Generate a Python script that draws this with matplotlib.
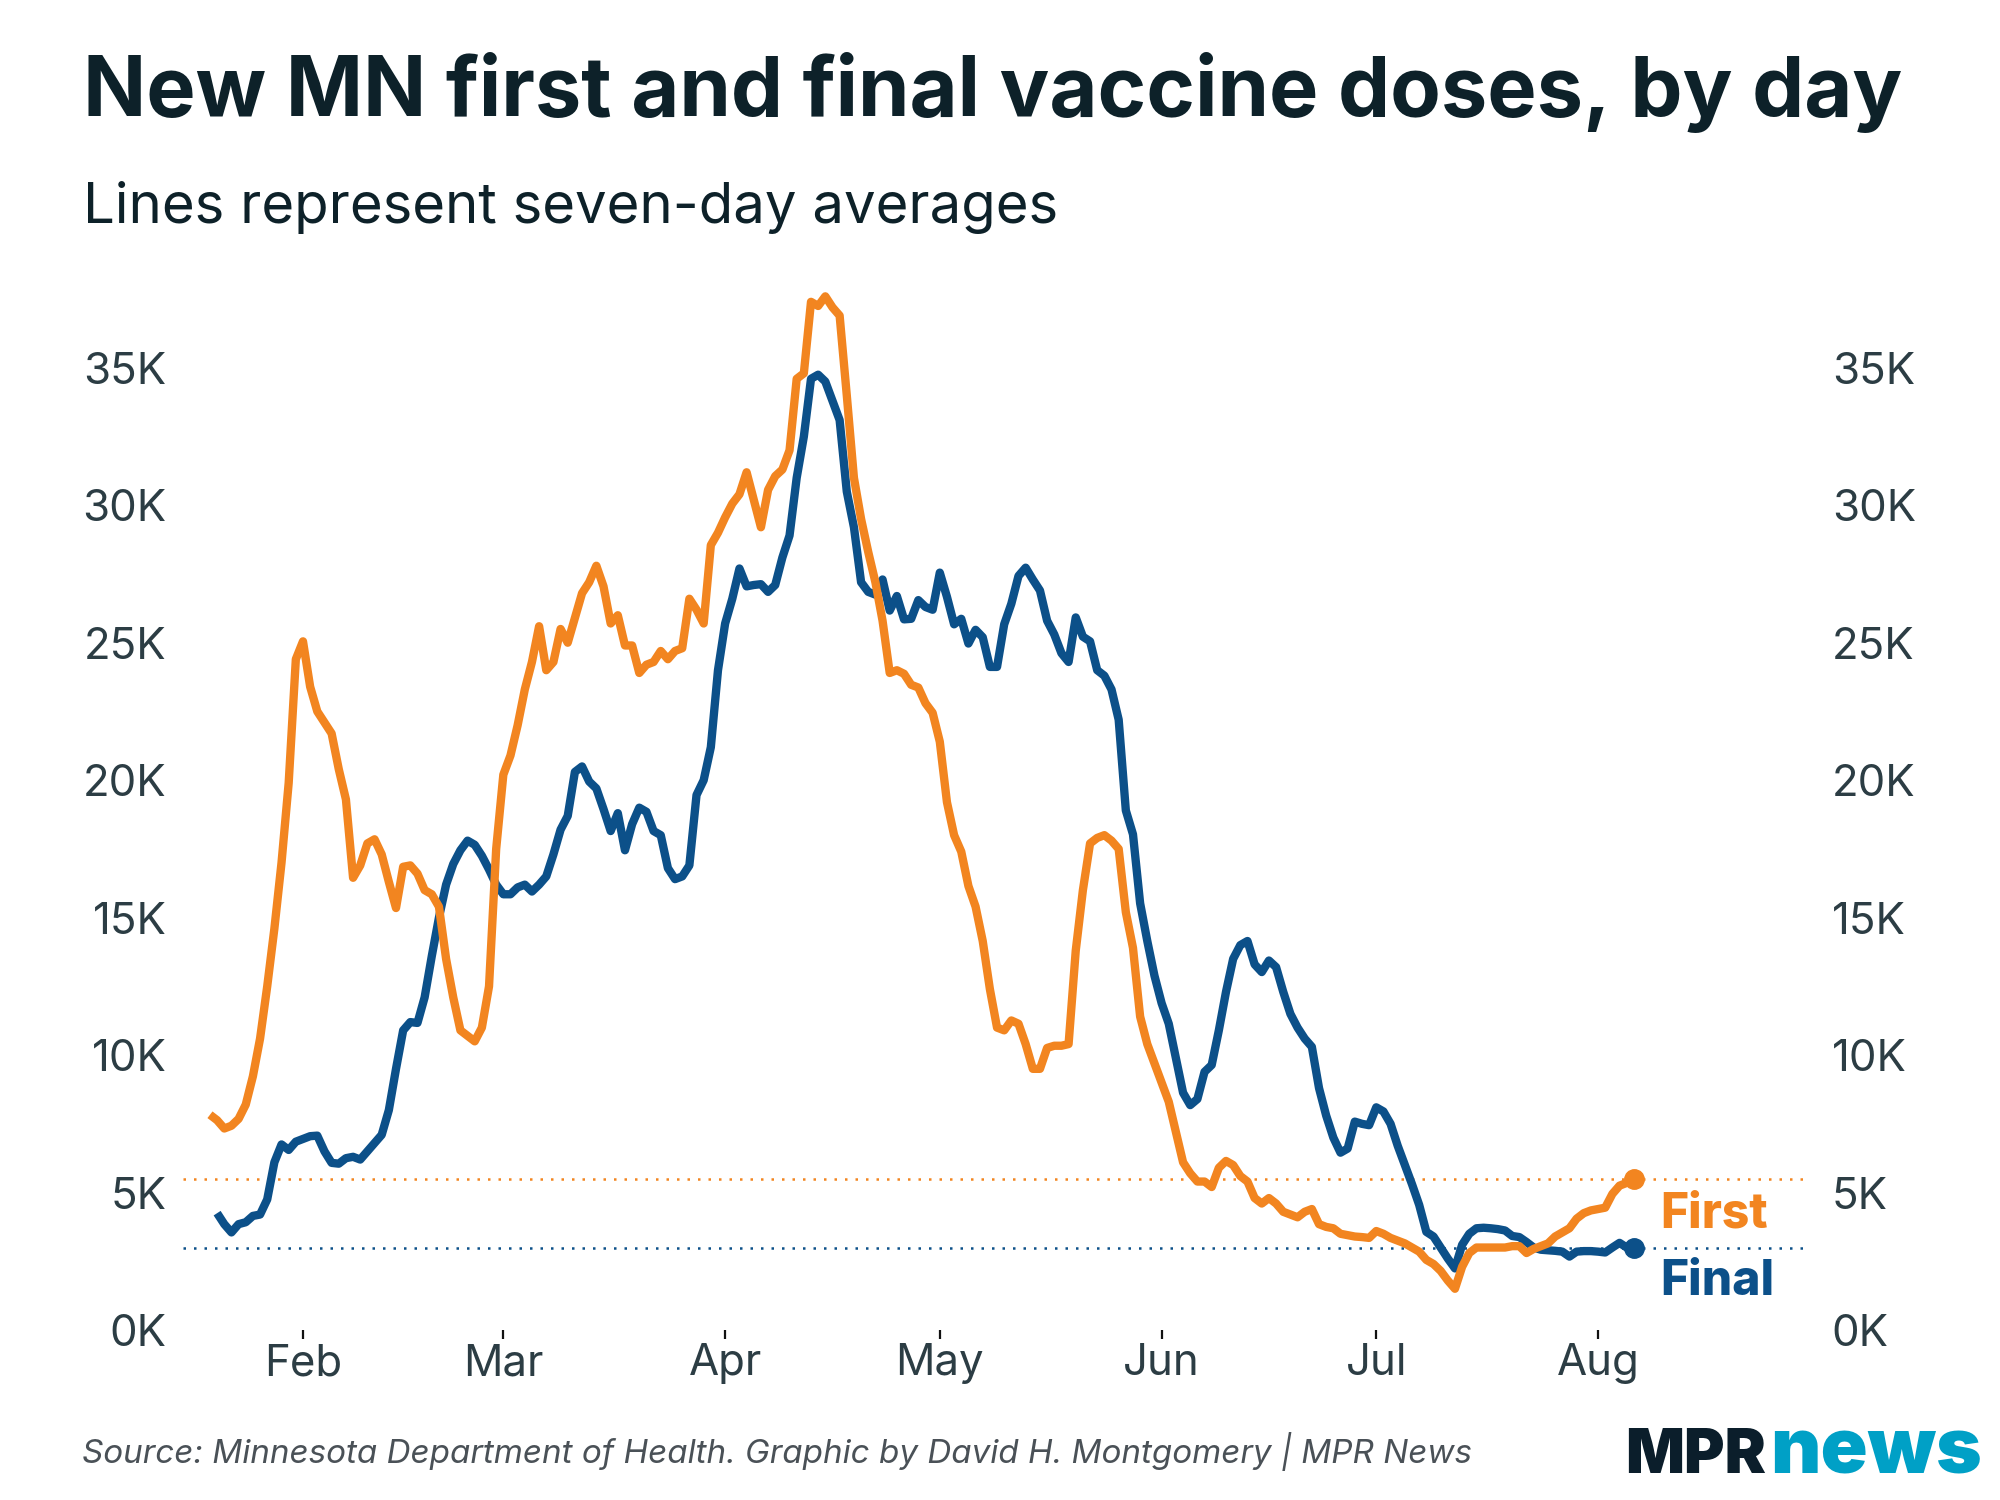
import matplotlib.pyplot as plt
import pandas as pd
from matplotlib.ticker import FuncFormatter

plt.rcParams['font.family'] = ['Inter', 'DejaVu Sans']

# seven-day averages, thousands of doses per day
first_start = '2021-01-19'
first_doses = [
    7.83, 7.63, 7.33, 7.43, 7.68, 8.2, 9.23, 10.6, 12.5, 14.6,
    17.0, 19.9, 24.4, 25.05, 23.4, 22.5, 22.1, 21.7, 20.4, 19.3,
    16.45, 16.9, 17.7, 17.85, 17.3, 16.3, 15.35, 16.85, 16.9, 16.6,
    16.0, 15.85, 15.4, 13.5, 12.1, 10.9, 10.7, 10.5, 11.0, 12.5,
    17.5, 20.2, 20.9, 22.0, 23.3, 24.3, 25.6, 24.0, 24.3, 25.5,
    25.0, 25.9, 26.8, 27.2, 27.8, 27.05, 25.7, 26.0, 24.9, 24.9,
    23.9, 24.2, 24.3, 24.7, 24.4, 24.7, 24.8, 26.6, 26.2, 25.7,
    28.55, 29.0, 29.56, 30.06, 30.4, 31.2, 30.2, 29.2, 30.56, 31.06,
    31.3, 32.0, 34.6, 34.8, 37.4, 37.25, 37.6, 37.2, 36.9, 34.0,
    31.0, 29.5, 28.3, 27.2, 25.8, 23.9, 24.0, 23.87, 23.47, 23.37,
    22.8, 22.45, 21.4, 19.2, 18.0, 17.4, 16.15, 15.4, 14.15, 12.4,
    11.0, 10.9, 11.26, 11.14, 10.4, 9.5, 9.5, 10.26, 10.34, 10.34,
    10.4, 13.8, 16.0, 17.7, 17.9, 18.0, 17.8, 17.5, 15.2, 13.9,
    11.4, 10.4, 9.7, 9.0, 8.3, 7.2, 6.1, 5.7, 5.4, 5.4,
    5.2, 5.9, 6.15, 6.0, 5.6, 5.4, 4.8, 4.6, 4.8, 4.6,
    4.3, 4.2, 4.1, 4.3, 4.4, 3.85, 3.75, 3.7, 3.5, 3.45,
    3.4, 3.38, 3.35, 3.6, 3.5, 3.35, 3.25, 3.15, 3.0, 2.85,
    2.55, 2.4, 2.15, 1.8, 1.5, 2.3, 2.8, 3.0, 3.0, 3.0,
    3.0, 3.0, 3.05, 3.05, 2.8, 2.95, 3.05, 3.15, 3.4, 3.55,
    3.7, 4.05, 4.25, 4.35, 4.4, 4.45, 4.95, 5.25, 5.35, 5.5,
]

final_start = '2021-01-20'
final_doses = [
    4.25, 3.85, 3.55, 3.85, 3.92, 4.15, 4.2, 4.75, 6.1, 6.75,
    6.55, 6.85, 6.95, 7.05, 7.07, 6.5, 6.08, 6.05, 6.25, 6.3,
    6.2, 6.5, 6.8, 7.1, 8.0, 9.5, 10.9, 11.2, 11.17, 12.1,
    13.6, 15.0, 16.2, 16.95, 17.45, 17.8, 17.65, 17.25, 16.75, 16.2,
    15.85, 15.85, 16.1, 16.2, 15.95, 16.2, 16.5, 17.3, 18.2, 18.7,
    20.3, 20.5, 19.95, 19.7, 18.95, 18.15, 18.8, 17.45, 18.4, 19.0,
    18.85, 18.15, 18.0, 16.8, 16.4, 16.5, 16.9, 19.46, 20.0, 21.2,
    24.0, 25.7, 26.6, 27.7, 27.05, 27.1, 27.13, 26.85, 27.1, 28.1,
    28.9, 31.0, 32.5, 34.6, 34.75, 34.5, 33.8, 33.1, 30.5, 29.2,
    27.2, 26.85, 26.75, 27.3, 26.17, 26.7, 25.85, 25.87, 26.55, 26.3,
    26.2, 27.55, 26.67, 25.67, 25.87, 24.97, 25.47, 25.2, 24.12, 24.12,
    25.67, 26.42, 27.43, 27.73, 27.3, 26.9, 25.8, 25.3, 24.62, 24.3,
    25.92, 25.22, 25.05, 24.0, 23.8, 23.3, 22.2, 18.9, 18.03, 15.52,
    14.15, 12.89, 11.89, 11.14, 9.89, 8.63, 8.18, 8.4, 9.39, 9.64,
    10.9, 12.3, 13.5, 14.0, 14.15, 13.3, 13.02, 13.44, 13.2, 12.3,
    11.5, 11.0, 10.6, 10.3, 8.8, 7.8, 7.0, 6.45, 6.6, 7.58,
    7.5, 7.45, 8.1, 7.95, 7.5, 6.7, 6.0, 5.3, 4.55, 3.57,
    3.4, 3.0, 2.6, 2.24, 3.1, 3.5, 3.7, 3.72, 3.7, 3.67,
    3.62, 3.42, 3.38, 3.2, 3.0, 2.92, 2.9, 2.88, 2.85, 2.67,
    2.85, 2.87, 2.87, 2.85, 2.82, 3.0, 3.17, 3.0, 3.0,
]

month_ticks = ['2021-02-01', '2021-03-01', '2021-04-01', '2021-05-01',
               '2021-06-01', '2021-07-01', '2021-08-01']
month_labels = ['Feb', 'Mar', 'Apr', 'May', 'Jun', 'Jul', 'Aug']
y_ticks = [0, 5, 10, 15, 20, 25, 30, 35]

ORANGE = '#f28520'
BLUE = '#0c5089'
INK = '#0d2129'
AXIS_TEXT = '#2c3d44'

W, H = 2000, 1500

first_dates = pd.date_range(first_start, periods=len(first_doses))
final_dates = pd.date_range(final_start, periods=len(final_doses))

fig = plt.figure(figsize=(W / 100, H / 100), dpi=100)
fig.patch.set_facecolor('white')

# axes box: x 183..1811 px, y 271..1330 px
ax = fig.add_axes([183 / W, 1 - 1330 / H, (1811 - 183) / W, (1330 - 271.6) / H])
feb1 = pd.Timestamp('2021-02-01')
ax.set_xlim(feb1 - pd.Timedelta(days=16.77), feb1 + pd.Timedelta(days=210.76))
ax.set_ylim(0, 38.5)

# reference lines at the latest values
ax.axhline(first_doses[-1], color=ORANGE, lw=1.8, linestyle=(0, (1, 3.2)), zorder=1)
ax.axhline(final_doses[-1], color=BLUE, lw=1.8, linestyle=(0, (1, 3.2)), zorder=1)

ax.plot(final_dates, final_doses, color=BLUE, lw=6, solid_joinstyle='round',
        solid_capstyle='butt', zorder=2)
ax.plot(first_dates, first_doses, color=ORANGE, lw=6, solid_joinstyle='round',
        solid_capstyle='butt', zorder=3)
ax.plot(final_dates[-1:], final_doses[-1:], 'o', color=BLUE, ms=14, zorder=4)
ax.plot(first_dates[-1:], first_doses[-1:], 'o', color=ORANGE, ms=14, zorder=4)

for s in ax.spines.values():
    s.set_visible(False)

ax.set_xticks(pd.to_datetime(month_ticks))
ax.set_xticklabels(month_labels)
ax.tick_params(axis='x', length=6.5, width=1.6, color='#111111', pad=3,
               labelsize=31.5, labelcolor=AXIS_TEXT)

fmt = FuncFormatter(lambda v, p: f'{int(v)}K')
ax.set_yticks(y_ticks)
ax.yaxis.set_major_formatter(fmt)
ax.tick_params(axis='y', length=0, pad=12, labelsize=31.5, labelcolor=AXIS_TEXT)

ax2 = ax.twinx()
ax2.set_ylim(ax.get_ylim())
ax2.set_yticks(y_ticks)
ax2.yaxis.set_major_formatter(fmt)
ax2.tick_params(axis='y', length=0, pad=15, labelsize=31.5, labelcolor=AXIS_TEXT)
for s in ax2.spines.values():
    s.set_visible(False)

# series labels
fig.text(1660 / W, 1 - 1227 / H, 'First', color=ORANGE, fontsize=34.5,
         fontweight='heavy', va='baseline')
fig.text(1660 / W, 1 - 1295 / H, 'Final', color=BLUE, fontsize=34.5,
         fontweight='heavy', va='baseline')

fig.text(83 / W, 1 - 116 / H, 'New MN first and final vaccine doses, by day',
         color=INK, fontsize=59.7, fontweight='bold', va='baseline')
fig.text(83 / W, 1 - 223 / H, 'Lines represent seven-day averages',
         color=INK, fontsize=40.5, va='baseline')
fig.text(82 / W, 1 - 1463 / H,
         'Source: Minnesota Department of Health. Graphic by David H. Montgomery | MPR News',
         color='#4a5157', fontsize=23.9, style='italic', va='baseline')

# logo
fig.text(1625 / W, 1 - 1473 / H, 'MPR', color='#0b1e2b', fontsize=44.5,
         fontweight='black', va='baseline')
fig.text(1770 / W, 1 - 1473 / H, 'news', color='#00a0c6', fontsize=56,
         fontweight='black', va='baseline')

fig.savefig('out.png', dpi=100, facecolor='white')
